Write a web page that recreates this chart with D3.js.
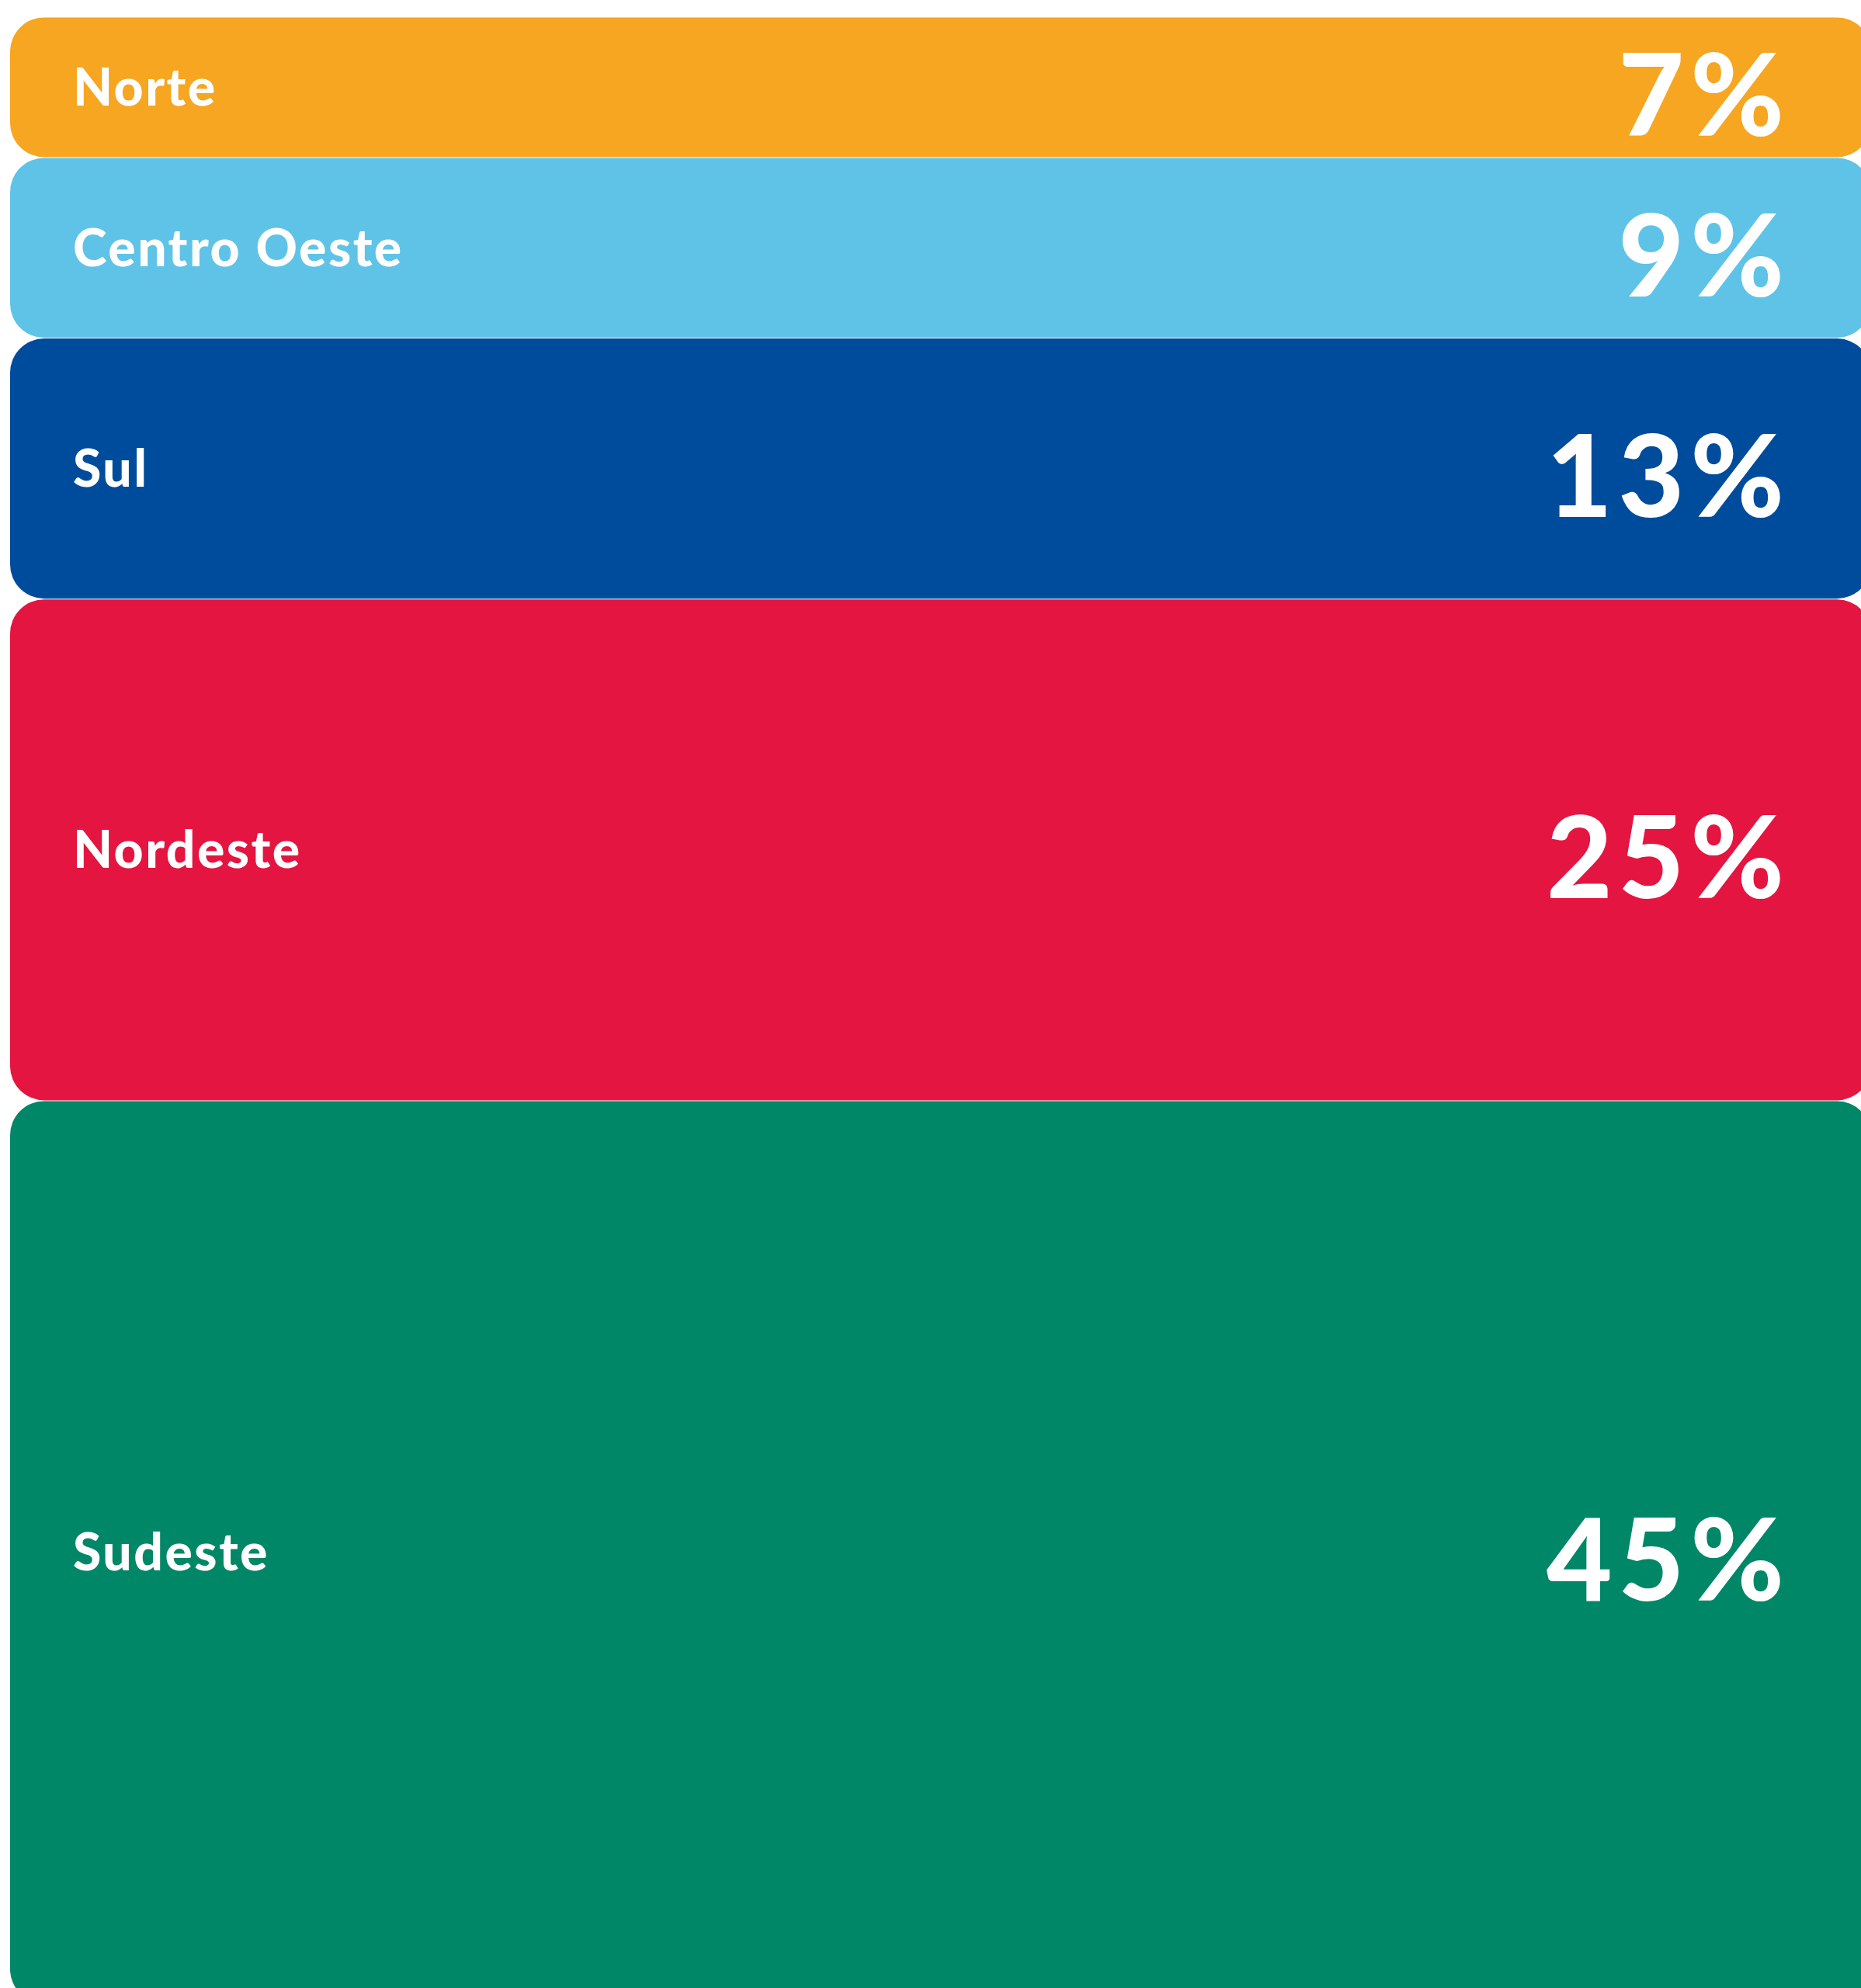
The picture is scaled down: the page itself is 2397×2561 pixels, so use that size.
<!DOCTYPE html>
<html>
<head>
<meta charset="utf-8">
<script src="https://cdn.jsdelivr.net/npm/d3@7"></script>
<style>
  html, body { margin: 0; padding: 0; background: #ffffff; overflow: hidden; }
  svg { display: block; }
  text { font-family: Lato, "Open Sans", sans-serif; fill: #ffffff; font-weight: 900; }
</style>
</head>
<body>
<svg id="chart"></svg>
<script>
// Share of total by region (percent), drawn top to bottom
const regions = ["Norte", "Centro Oeste", "Sul", "Nordeste", "Sudeste"];
const shares  = [7, 9, 13, 25, 45];
const colors  = ["#F6A620", "#5EC3E7", "#004C9C", "#E41540", "#008767"];

const W = 2397, H = 2561;
const svg = d3.select("#chart").attr("width", W).attr("height", H);

// Cumulative stacking of the shares
const rows = regions.map((name, i) => ({
  name, value: shares[i], color: colors[i],
  start: d3.sum(shares.slice(0, i)),
  end: d3.sum(shares.slice(0, i + 1))
}));

const total = d3.sum(shares);
const pxPerPoint = 25.85;
const y = d3.scaleLinear().domain([0, total]).range([22, 22 + total * pxPerPoint]);
const x = d3.scaleLinear().domain([0, 1]).range([13, 2410]);

const radius = 44;
const capRatio = 0.7165; // Lato cap height ratio
const labelSize = 66, valueSize = 146;
const valueTracking = 8;

const g = svg.selectAll("g.row").data(rows).join("g").attr("class", "row");

g.append("rect")
  .attr("x", x(0))
  .attr("width", x(1) - x(0))
  .attr("y", d => y(d.start) + 0.5)
  .attr("height", d => y(d.end) - y(d.start) - 1)
  .attr("rx", radius).attr("ry", radius)
  .attr("fill", d => d.color);

g.append("text")
  .attr("x", 94)
  .attr("y", d => (y(d.start) + y(d.end)) / 2 + labelSize * capRatio / 2)
  .attr("font-size", labelSize)
  .attr("letter-spacing", 2.5)
  .text(d => d.name);

g.append("text")
  .attr("x", 2298 + valueTracking)
  .attr("text-anchor", "end")
  .attr("y", d => (y(d.start) + y(d.end)) / 2 + valueSize * capRatio / 2 + 10)
  .attr("font-size", valueSize)
  .attr("letter-spacing", valueTracking)
  .text(d => d.value + "%");
</script>
</body>
</html>
